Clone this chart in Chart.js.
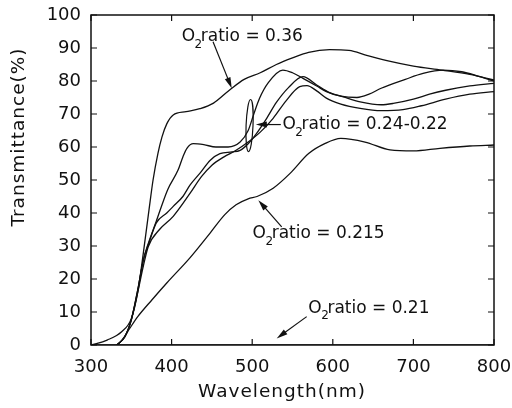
<!DOCTYPE html>
<html>
<head>
<meta charset="utf-8">
<title>Transmittance vs wavelength</title>
<script src="https://cdn.jsdelivr.net/npm/chart.js@4.4.0/dist/chart.umd.min.js"></script>
<style>
  html, body { margin: 0; padding: 0; background: #fff; }
  #wrap { width: 512px; height: 408px; }
</style>
</head>
<body>
<div id="wrap"><canvas id="tr" width="512" height="408"></canvas></div>
<script>
// spectra read per O2 ratio: wavelength (nm) and transmittance (%)
const wl036 = [300, 320, 338, 350, 358, 365, 372, 377, 383, 388, 394, 402, 418, 435, 452, 472, 490, 510, 530, 550, 570, 596, 620, 642, 670, 700, 735, 770, 800];
const tr036 = [0, 1.5, 4, 8, 16, 28, 41, 50, 58, 63, 67, 69.7, 70.7, 71.6, 73.3, 77.3, 80.5, 82.5, 85, 87, 88.7, 89.5, 89.3, 87.8, 86, 84.5, 83.3, 82, 80.3];

const wlA = [332, 342, 350, 358, 365, 370, 381, 395, 408, 414, 419, 427, 440, 455, 470, 485, 495, 502, 509, 520, 538, 550, 563, 580, 592, 610, 630, 645, 660, 690, 712, 737, 760, 780, 800];
const trA = [0, 2.5, 7.6, 16.7, 25.8, 30, 37.5, 47, 53, 57, 59.6, 61, 60.7, 60, 60, 61.5, 65, 70, 74.7, 79.5, 83.3, 82.5, 80.8, 78.5, 76.8, 75.4, 75, 76, 77.8, 80.5, 82.3, 83.3, 82.8, 81.5, 80];

const wlB = [332, 342, 350, 358, 365, 372, 381, 394, 402, 414, 423, 435, 448, 460, 475, 485, 495, 505, 518, 530, 545, 563, 580, 596, 613, 634, 660, 675, 700, 720, 740, 770, 800];
const trB = [0, 2.5, 7.6, 16.7, 25.8, 31, 37, 40, 42, 45, 48.5, 52, 56, 58, 58.5, 59, 61, 64, 68.7, 73.5, 78, 81.3, 78.8, 76.5, 75.2, 73.7, 72.8, 73.2, 74.5, 76, 77.2, 78.5, 79.3];

const wlC = [332, 342, 350, 358, 365, 371, 385, 402, 423, 437, 450, 465, 480, 495, 510, 526, 542, 559, 568, 580, 592, 610, 634, 660, 687, 710, 740, 770, 800];
const trC = [0, 2.5, 7.6, 16, 24, 29.8, 35, 39, 46, 51, 54.5, 57, 59, 61.5, 64.5, 68.7, 74, 78.3, 78.6, 77, 74.8, 73, 71.7, 71, 71.3, 72.5, 74.5, 76, 76.8];

const wl0215 = [333, 340, 348, 358, 376, 394, 423, 448, 466, 480, 495, 506, 526, 547, 570, 590, 610, 640, 671, 700, 733, 770, 800];
const tr0215 = [0, 2, 5, 8.6, 13.8, 18.8, 26.5, 34, 39.5, 42.5, 44.3, 45, 47.5, 52, 58, 61, 62.6, 61.5, 59.1, 58.8, 59.6, 60.3, 60.6];

const wl021 = [300, 800];
const tr021 = [0, 0];

const xTicks = [300, 400, 500, 600, 700, 800];
const yTicks = [0, 10, 20, 30, 40, 50, 60, 70, 80, 90, 100];

// labels with leader arrows, in data units: text start, arrow tail, arrow tip
const notes = [
  { text: '0.36',      at: [412.5, 93.4], from: [451.4, 91.9], to: [474.6, 77.8] },
  { text: '0.24-0.22', at: [537.5, 66.7], from: [535.5, 66.8], to: [504.5, 66.8] },
  { text: '0.215',     at: [500.5, 33.8], from: [536.6, 35.8], to: [507.6, 43.9] },
  { text: '0.21',      at: [569.6, 11.1], from: [567.6, 8.6],  to: [530.4, 2.0] },
];
// ellipse grouping the 0.24-0.22 curves: centre (nm, %), radii (nm, %)
const ring = { c: [496.7, 66.5], r: [4.3, 7.9] };

const INK = '#111';
const FONT = '"DejaVu Sans", "Liberation Sans", sans-serif';
const pairs = (xs, ys) => xs.map((v, i) => ({ x: v, y: ys[i] }));
const line = (d) => ({
  data: d, borderColor: INK, borderWidth: 1.3, pointRadius: 0,
  cubicInterpolationMode: 'monotone', fill: false,
});

function ratioText(ctx, px, py, value) {
  ctx.font = '17px ' + FONT;
  ctx.textBaseline = 'middle';
  ctx.textAlign = 'left';
  ctx.fillText('O', px, py);
  const w = ctx.measureText('O').width;
  ctx.font = '12px ' + FONT;
  ctx.fillText('2', px + w - 0.5, py + 8);
  const sw = ctx.measureText('2').width;
  ctx.font = '17px ' + FONT;
  ctx.fillText('ratio = ' + value, px + w + sw * 0.75, py);
}

function arrow(ctx, x0, y0, x1, y1) {
  const ang = Math.atan2(y1 - y0, x1 - x0);
  const len = 11, half = 3;
  ctx.beginPath();
  ctx.moveTo(x0, y0);
  ctx.lineTo(x1 - Math.cos(ang) * len * 0.6, y1 - Math.sin(ang) * len * 0.6);
  ctx.stroke();
  ctx.beginPath();
  ctx.moveTo(x1, y1);
  ctx.lineTo(x1 - Math.cos(ang) * len - Math.sin(ang) * half, y1 - Math.sin(ang) * len + Math.cos(ang) * half);
  ctx.lineTo(x1 - Math.cos(ang) * len + Math.sin(ang) * half, y1 - Math.sin(ang) * len - Math.cos(ang) * half);
  ctx.closePath();
  ctx.fill();
}

const frame = {
  id: 'frame',
  afterDraw(chart) {
    const { ctx, chartArea: a, scales: { x, y } } = chart;
    const TICK = 6;
    ctx.save();
    ctx.strokeStyle = INK;
    ctx.fillStyle = INK;
    ctx.lineWidth = 1.5;
    ctx.strokeRect(a.left, a.top, a.right - a.left, a.bottom - a.top);

    // inward ticks on all four sides
    ctx.lineWidth = 1.2;
    ctx.beginPath();
    xTicks.forEach((v) => {
      const px = x.getPixelForValue(v);
      ctx.moveTo(px, a.bottom); ctx.lineTo(px, a.bottom - TICK);
      ctx.moveTo(px, a.top); ctx.lineTo(px, a.top + TICK);
    });
    yTicks.forEach((v) => {
      const py = y.getPixelForValue(v);
      ctx.moveTo(a.left, py); ctx.lineTo(a.left + TICK, py);
      ctx.moveTo(a.right, py); ctx.lineTo(a.right - TICK, py);
    });
    ctx.stroke();

    // grouping ellipse
    ctx.beginPath();
    const cx = x.getPixelForValue(ring.c[0]), cy = y.getPixelForValue(ring.c[1]);
    const rx = x.getPixelForValue(ring.c[0] + ring.r[0]) - cx;
    const ry = cy - y.getPixelForValue(ring.c[1] + ring.r[1]);
    ctx.ellipse(cx, cy, rx, ry, 0.04, 0, Math.PI * 2);
    ctx.stroke();

    // labels and arrows
    notes.forEach((n) => {
      arrow(ctx, x.getPixelForValue(n.from[0]), y.getPixelForValue(n.from[1]),
        x.getPixelForValue(n.to[0]), y.getPixelForValue(n.to[1]));
      ratioText(ctx, x.getPixelForValue(n.at[0]), y.getPixelForValue(n.at[1]), n.text);
    });

    // axis titles
    ctx.font = '18.5px ' + FONT;
    ctx.letterSpacing = '1px';
    ctx.textAlign = 'center';
    ctx.textBaseline = 'middle';
    ctx.fillText('Wavelength(nm)', 282, 392);
    ctx.translate(19, 137);
    ctx.rotate(-Math.PI / 2);
    ctx.fillText('Transmittance(%)', 0, 0);
    ctx.restore();
  },
};

new Chart(document.getElementById('tr'), {
  type: 'line',
  data: {
    datasets: [
      line(pairs(wl036, tr036)),
      line(pairs(wlA, trA)),
      line(pairs(wlB, trB)),
      line(pairs(wlC, trC)),
      line(pairs(wl0215, tr0215)),
      line(pairs(wl021, tr021)),
    ],
  },
  options: {
    responsive: false,
    animation: false,
    layout: { padding: { left: 0, top: 15, right: 18, bottom: 0 } },
    plugins: { legend: { display: false }, tooltip: { enabled: false } },
    scales: {
      x: {
        type: 'linear', min: 300, max: 800,
        // fixed box; end labels may overhang the plot edges
        afterFit: (s) => { s.height = 63; s.paddingLeft = 0; s.paddingRight = 0; },
        afterBuildTicks: (s) => { s.ticks = xTicks.map((v) => ({ value: v })); },
        grid: { display: false, drawTicks: false },
        border: { display: false },
        ticks: { color: INK, padding: 12, font: { family: FONT, size: 18 }, maxRotation: 0 },
      },
      y: {
        type: 'linear', min: 0, max: 100,
        afterFit: (s) => { s.width = 91; s.paddingTop = 0; s.paddingBottom = 0; },
        afterBuildTicks: (s) => { s.ticks = yTicks.map((v) => ({ value: v })); },
        grid: { display: false, drawTicks: false },
        border: { display: false },
        ticks: { color: INK, padding: 10, font: { family: FONT, size: 18 } },
      },
    },
  },
  plugins: [frame],
});
</script>
</body>
</html>
